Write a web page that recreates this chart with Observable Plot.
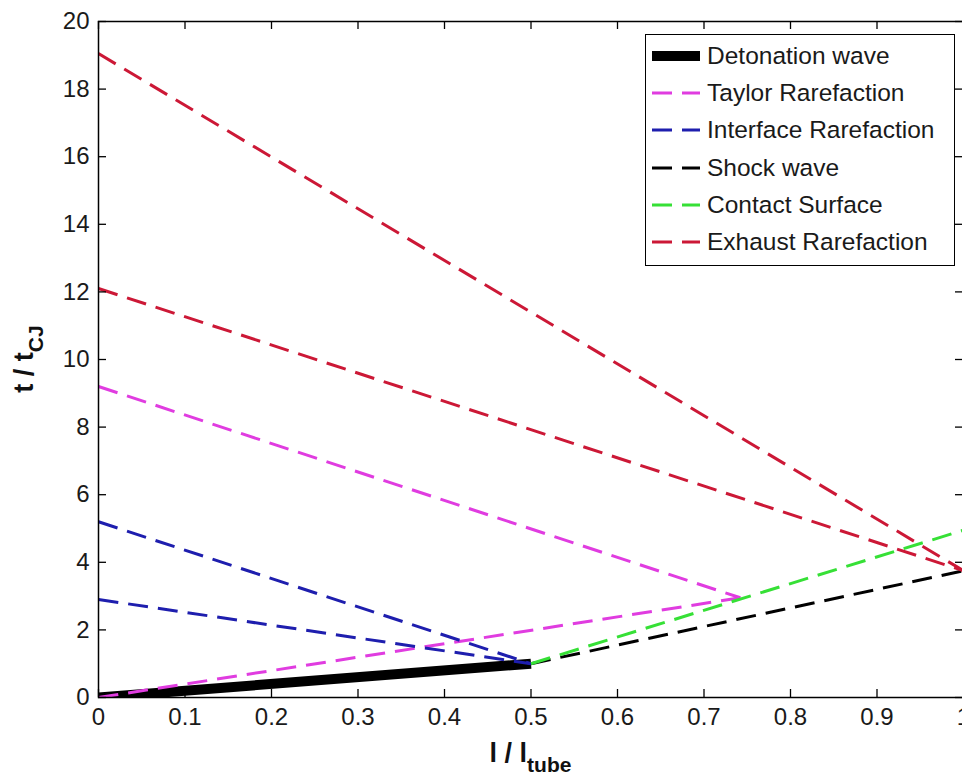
<!DOCTYPE html>
<html><head><meta charset="utf-8">
<script src="https://cdn.jsdelivr.net/npm/d3@7"></script>
<script src="https://cdn.jsdelivr.net/npm/@observablehq/plot@0.6"></script>
<style>
html,body{margin:0;padding:0;background:#fff;overflow:hidden;width:962px;height:776px;}
#wrap{position:relative;width:962px;height:776px;overflow:hidden;}
#wrap > svg{max-width:none !important;display:block;}
#legend{position:absolute;left:645px;top:34px;width:310px;height:232px;border:1.5px solid #000;background:#fff;box-sizing:border-box;font-family:"Liberation Sans",Arial,sans-serif;font-size:24.5px;color:#1a1a1a;}
.row{position:absolute;left:0;height:30px;width:305px;}
.row svg{position:absolute;left:6px;top:0;}
.row span{position:absolute;left:61px;top:0;line-height:30px;white-space:nowrap;}
</style></head><body><div id="wrap"><div id="legend"></div></div>
<script>
// Series (legend order)
const seriesNames = ["Detonation wave","Taylor Rarefaction","Interface Rarefaction","Shock wave","Contact Surface","Exhaust Rarefaction"];
const seriesColors = ["#000000","#e03ce0","#1e1eae","#000000","#36e036","#cc1836"];
const seriesWidths = [10, 3, 3, 3, 3, 3];
const seriesDash = [null, "20,10", "20,10", "20,10", "20,10", "20,10"];

// Line segments (wave paths in the l/l_tube – t/t_CJ plane)
const segSeries = [0, 1, 1, 2, 2, 3, 4, 5, 5];
const segX0 = [0, 0, 0, 0, 0, 0.5, 0.5, 0, 0];
const segY0 = [0, 0, 9.2, 5.2, 2.9, 1, 1, 19.05, 12.1];
const segX1 = [0.5, 0.742, 0.742, 0.5, 0.5, 1, 1, 1, 1];
const segY1 = [1, 2.95, 2.95, 1, 1, 3.75, 4.95, 3.75, 3.75];

// Ticks
const xTicks = [0, 0.1, 0.2, 0.3, 0.4, 0.5, 0.6, 0.7, 0.8, 0.9, 1];
const yTicks = [0, 2, 4, 6, 8, 10, 12, 14, 16, 18, 20];

const segments = segSeries.map((s, i) => ({s, x1: segX0[i], y1: segY0[i], x2: segX1[i], y2: segY1[i]}));

const W = 975, H = 776;
const mL = 98, mR = W - 963, mT = 21, mB = H - 697;
const plotW = W - mL - mR, plotH = H - mT - mB;
const tickLen = 8;

const lineMarks = seriesNames.map((name, k) =>
  Plot.link(segments.filter(d => d.s === k), {
    x1: "x1", y1: "y1", x2: "x2", y2: "y2",
    stroke: seriesColors[k], strokeWidth: seriesWidths[k],
    strokeDasharray: seriesDash[k] || undefined,
    strokeLinecap: "butt", clip: true
  })
);

const plot = Plot.plot({
  width: W, height: H,
  marginLeft: mL, marginRight: mR, marginTop: mT, marginBottom: mB,
  x: {domain: [0, 1]},
  y: {domain: [0, 20]},
  style: {fontFamily: "'Liberation Sans', Arial, sans-serif", background: "#fff", color: "#1a1a1a", maxWidth: "none"},
  marks: [
    ...lineMarks,
    Plot.frame({stroke: "#000", strokeWidth: 1.5}),
    Plot.ruleX(xTicks, {x: d => d, insetTop: plotH - tickLen, stroke: "#000", strokeWidth: 1.3}),
    Plot.ruleX(xTicks, {x: d => d, insetBottom: plotH - tickLen, stroke: "#000", strokeWidth: 1.3}),
    Plot.ruleY(yTicks, {y: d => d, insetRight: plotW - tickLen, stroke: "#000", strokeWidth: 1.3}),
    Plot.ruleY(yTicks, {y: d => d, insetLeft: plotW - tickLen, stroke: "#000", strokeWidth: 1.3}),
    Plot.axisX(xTicks, {tickSize: 0, tickPadding: 10, fontSize: 24, label: null, tickFormat: d3.format("~g")}),
    Plot.axisY(yTicks, {tickSize: 0, tickPadding: 9, fontSize: 24, label: null, tickFormat: d3.format("~g")})
  ]
});
plot.style.maxWidth = "none";

document.getElementById("wrap").prepend(plot);

// Axis titles with subscripts
const svg = d3.select(plot);
const xs = plot.scale("x"), ys = plot.scale("y");
const xMid = (xs.range[0] + xs.range[1]) / 2;
const yMid = (ys.range[0] + ys.range[1]) / 2;
const xl = svg.append("text").attr("x", xMid).attr("y", 762).attr("text-anchor", "middle")
  .attr("font-weight", "bold").attr("font-size", 27).attr("fill", "#111").attr("font-family", "'Liberation Sans', Arial, sans-serif");
xl.append("tspan").text("l / l");
xl.append("tspan").attr("dy", 10).attr("font-size", 21).text("tube");
const yl = svg.append("text").attr("transform", `translate(33,${yMid}) rotate(-90)`).attr("text-anchor", "middle")
  .attr("font-weight", "bold").attr("font-size", 27).attr("fill", "#111").attr("font-family", "'Liberation Sans', Arial, sans-serif");
yl.append("tspan").text("t / t");
yl.append("tspan").attr("dy", 10).attr("font-size", 21).text("CJ");

// Legend
const legend = d3.select("#legend");
seriesNames.forEach((name, i) => {
  const row = legend.append("div").attr("class", "row").style("top", (6 + i * 37.2) + "px");
  const s = row.append("svg").attr("width", 50).attr("height", 30);
  s.append("line").attr("x1", 0).attr("x2", 48).attr("y1", 15).attr("y2", 15)
    .attr("stroke", seriesColors[i]).attr("stroke-width", seriesWidths[i])
    .attr("stroke-dasharray", seriesDash[i]);
  row.append("span").text(name);
});
</script>
</body></html>
